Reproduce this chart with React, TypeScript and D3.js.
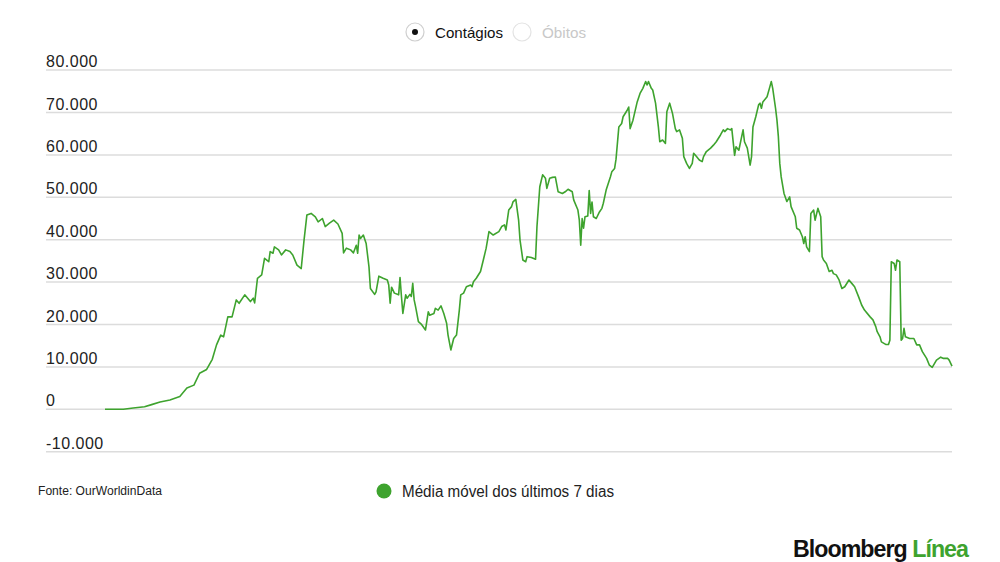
import { useRef, useEffect } from "react";
import * as d3 from "d3";

// dias desde o início da série e média móvel de 7 dias (casos)
const days = [
  0, 13, 20, 28, 33, 39, 46, 53, 58, 63, 67, 72, 76, 79, 82, 84, 87, 90, 93, 95,
  99, 103, 105, 106, 108, 111, 113, 116, 117, 119, 120, 123, 125, 128, 131, 133, 136, 139, 141, 143,
  146, 149, 151, 154, 156, 159, 162, 165, 168, 169, 171, 174, 176, 178, 179, 180, 181, 183, 185, 187,
  188, 191, 192, 194, 197, 200, 201, 202, 203, 205, 208, 209, 210, 211, 213, 214, 216, 217, 218, 219,
  220, 222, 224, 227, 229, 230, 233, 234, 236, 238, 240, 242, 243, 245, 247, 249, 251, 252, 254, 256,
  259, 260, 261, 263, 266, 268, 270, 272, 275, 279, 281, 283, 284, 286, 288, 289, 291, 293, 294, 296,
  298, 299, 302, 305, 306, 308, 310, 312, 313, 315, 317, 319, 321, 324, 326, 328, 331, 332, 335, 336,
  337, 338, 339, 340, 342, 343, 344, 345, 346, 348, 350, 352, 353, 355, 358, 359, 361, 362, 364, 366,
  367, 370, 371, 372, 374, 377, 379, 381, 383, 384, 385, 387, 388, 390, 392, 393, 395, 397, 398, 400,
  402, 404, 405, 407, 409, 410, 412, 414, 416, 417, 419, 421, 423, 424, 426, 429, 431, 433, 436, 438,
  439, 441, 443, 444, 446, 447, 449, 452, 453, 455, 457, 458, 459, 461, 463, 464, 465, 466, 469, 471,
  472, 473, 475, 476, 477, 478, 479, 481, 483, 485, 486, 489, 490, 492, 494, 495, 496, 497, 499, 500,
  502, 503, 505, 507, 508, 509, 511, 513, 515, 516, 518, 520, 522, 524, 527, 529, 531, 534, 536, 538,
  542, 544, 546, 547, 549, 550, 553, 555, 556, 557, 559, 560, 561, 563, 564, 565, 566, 567, 570, 573,
  575, 577, 579, 582, 584, 586, 589, 592, 594, 597, 598, 600,
];

const cases = [
  0, 0, 300, 600, 1100, 1700, 2200, 3000, 5000, 5700, 8500, 9400, 11800, 15200, 17500, 17100, 21800, 21800, 25800, 25000,
  27000, 25400, 26200, 25100, 30900, 31700, 35600, 34800, 37200, 36800, 38300, 37600, 36400, 37600, 37200, 36400, 34000, 33200, 39900, 45800,
  46200, 45400, 44200, 45000, 43100, 43900, 44600, 43700, 41500, 36900, 38000, 37600, 36900, 38700, 36800, 41100, 40300, 41100, 39100, 33600,
  28500, 27100, 27700, 31400, 30900, 30500, 29300, 25000, 28800, 27400, 27000, 31100, 26600, 22600, 27000, 26200, 27100, 26600, 29700, 25800,
  24200, 20700, 20100, 18700, 23000, 22200, 22600, 23800, 23400, 24400, 22600, 20300, 17500, 14000, 16700, 17500, 23400, 27000, 27400, 28900,
  29300, 28900, 30100, 30900, 32500, 35200, 38000, 41900, 41100, 41900, 43100, 43500, 42300, 47000, 47800, 48900, 49500, 44600, 39900, 35200,
  34800, 36000, 35800, 35400, 43100, 52500, 55300, 54500, 52100, 54500, 54700, 54800, 51300, 50900, 51300, 51900, 51300, 49400, 47000, 44600,
  38700, 45000, 42700, 45400, 45600, 51600, 46200, 48900, 45400, 45000, 46400, 47400, 48600, 51700, 54800, 56000, 56800, 59000, 66600, 67400,
  69000, 70600, 71300, 66200, 68200, 72500, 74500, 75700, 77300, 76500, 77300, 75700, 75300, 72200, 66600, 63100, 63500, 62700, 70200, 72200,
  69800, 66200, 65500, 65900, 63900, 59600, 58000, 56800, 58000, 60400, 59600, 58800, 58400, 59600, 60800, 61600, 62300, 63100, 64700, 65900,
  65500, 66200, 65900, 66200, 59900, 61900, 61100, 65900, 63100, 61600, 57600, 59600, 66600, 69000, 71800, 72200, 71000, 72500, 73700, 76100,
  77300, 75700, 71000, 68200, 64300, 58000, 54800, 50900, 49000, 50100, 47800, 45400, 42700, 42300, 40700, 39100, 40700, 38300, 37200, 46200,
  47000, 44600, 47400, 45400, 36000, 35200, 34400, 32500, 32800, 32000, 31700, 30500, 28500, 28900, 30500, 29700, 28900, 26400, 24600, 23400,
  21800, 21100, 19500, 18300, 17100, 15900, 15300, 15300, 16300, 34800, 34400, 32800, 35200, 34800, 16300, 16700, 19100, 17100, 16700, 16700,
  15200, 15200, 13600, 12000, 10400, 9900, 11600, 12300, 12000, 12000, 11600, 10200,
];

const yTicks = [-10000, 0, 10000, 20000, 30000, 40000, 50000, 60000, 70000, 80000];
const tabs = ["Contágios", "Óbitos"];
const legendLabel = "Média móvel dos últimos 7 dias";
const source = "Fonte: OurWorldinData";

const width = 1000;
const height = 562;
const green = "#3ea32e";
const font = "'Liberation Sans', Arial, sans-serif";

export default function App() {
  const ref = useRef<SVGSVGElement | null>(null);

  useEffect(() => {
    const svg = d3.select(ref.current);
    svg.selectAll("*").remove();

    const x = d3.scaleLinear().domain([0, 600]).range([105, 952]);
    const y = d3.scaleLinear().domain([-10000, 80000]).range([451.7, 70.1]);
    const fmt = d3.formatLocale({ decimal: ",", thousands: ".", grouping: [3], currency: ["R$", ""] }).format(",d");

    svg.append("rect").attr("width", width).attr("height", height).attr("fill", "#fff");

    // grade e rótulos do eixo y
    const grid = svg.append("g");
    grid
      .selectAll("line")
      .data(yTicks)
      .join("line")
      .attr("x1", 46)
      .attr("x2", 952)
      .attr("y1", (d) => y(d))
      .attr("y2", (d) => y(d))
      .attr("stroke", "#dcdcdc")
      .attr("stroke-width", 1.5);
    grid
      .selectAll("text")
      .data(yTicks)
      .join("text")
      .attr("x", 46)
      .attr("y", (d) => y(d) - 3)
      .attr("font-family", font)
      .attr("font-size", 16)
      .attr("letter-spacing", 0.5)
      .attr("fill", "#222")
      .text((d) => fmt(d).replace("−", "-"));

    const points = days.map((d, i) => ({ d, v: cases[i] }));
    const line = d3
      .line<{ d: number; v: number }>()
      .x((p) => x(p.d))
      .y((p) => y(p.v));

    svg
      .append("path")
      .datum(points)
      .attr("fill", "none")
      .attr("stroke", green)
      .attr("stroke-width", 1.6)
      .attr("stroke-linejoin", "round")
      .attr("d", line);

    // seletor superior
    const tabX = [415, 522];
    const tabW = [68, 44];
    const top = svg.append("g");
    tabs.forEach((t, i) => {
      top
        .append("circle")
        .attr("cx", tabX[i])
        .attr("cy", 32)
        .attr("r", 9)
        .attr("fill", "#fff")
        .attr("stroke", i === 0 ? "#cfcfcf" : "#e3e3e3")
        .attr("stroke-width", 1.2);
      if (i === 0) top.append("circle").attr("cx", tabX[i]).attr("cy", 32).attr("r", 3).attr("fill", "#111");
      top
        .append("text")
        .attr("x", tabX[i] + 20)
        .attr("y", 38)
        .attr("font-family", font)
        .attr("font-size", 15)
        .attr("textLength", tabW[i])
        .attr("lengthAdjust", "spacingAndGlyphs")
        .attr("fill", i === 0 ? "#111" : "#c8c8c8")
        .text(t);
    });

    // rodapé
    svg
      .append("text")
      .attr("x", 38)
      .attr("y", 495)
      .attr("font-family", font)
      .attr("font-size", 12)
      .attr("textLength", 124)
      .attr("lengthAdjust", "spacingAndGlyphs")
      .attr("fill", "#222")
      .text(source);

    svg.append("circle").attr("cx", 384).attr("cy", 491).attr("r", 7.5).attr("fill", green);
    svg
      .append("text")
      .attr("x", 402)
      .attr("y", 497)
      .attr("font-family", font)
      .attr("font-size", 16)
      .attr("textLength", 212)
      .attr("lengthAdjust", "spacingAndGlyphs")
      .attr("fill", "#222")
      .text(legendLabel);

    const brand = svg
      .append("text")
      .attr("x", 793)
      .attr("y", 557)
      .attr("font-family", font)
      .attr("font-size", 24)
      .attr("font-weight", "bold")
      .attr("textLength", 175)
      .attr("lengthAdjust", "spacingAndGlyphs")
      .attr("letter-spacing", -1);
    brand.append("tspan").attr("fill", "#111").text("Bloomberg ");
    brand.append("tspan").attr("fill", green).text("Línea");
  }, []);

  return (
    <svg
      ref={ref}
      width={width}
      height={height}
      viewBox={`0 0 ${width} ${height}`}
      style={{ position: "absolute", left: 0, top: 0, display: "block" }}
    />
  );
}
